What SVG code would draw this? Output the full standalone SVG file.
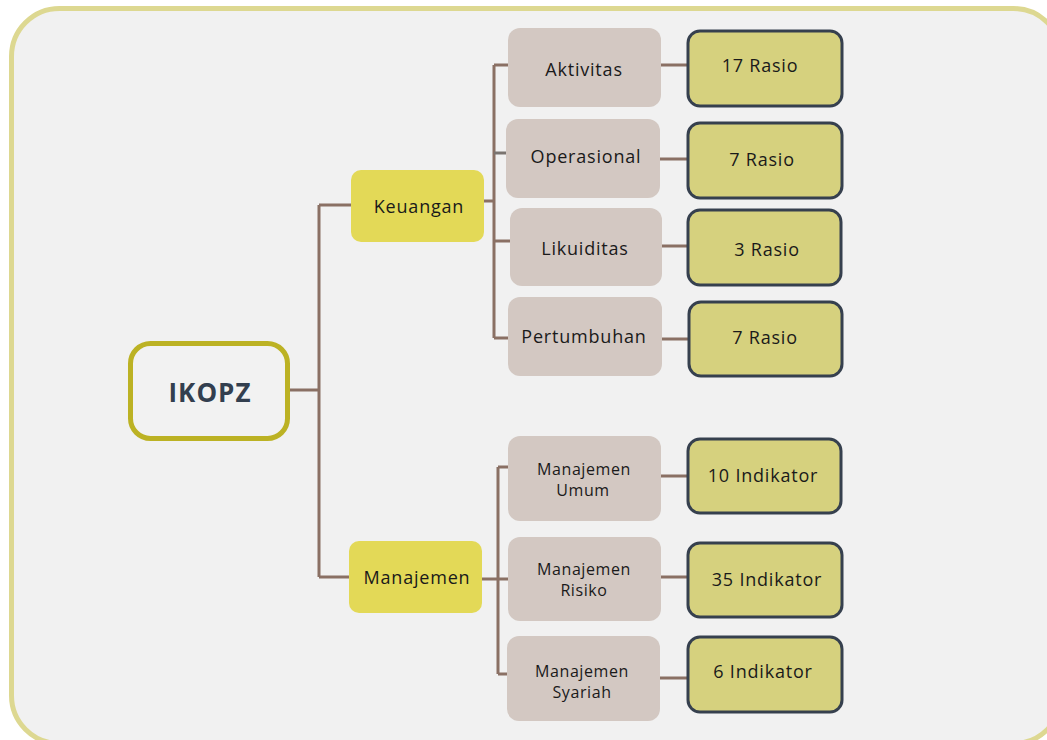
<svg xmlns="http://www.w3.org/2000/svg" width="1047" height="740" viewBox="0 0 1047 740">
<style>
text{font-family:"Open Sans","Liberation Sans",sans-serif;fill:#1a1a1a;text-anchor:middle;dominant-baseline:central}
.frame{fill:#f1f1f1;stroke:#ddd891;stroke-width:5}
.root{fill:#f2f2f2;stroke:#bcb224;stroke-width:5}
.cat{fill:#e3d957}
.sub{fill:#d3c8c2}
.res{fill:#d6d17e;stroke:#36404e;stroke-width:3}
.conn{fill:none;stroke:#8a7064;stroke-width:3}
.t18{font-size:18px;letter-spacing:0.8px}
.t16{font-size:16px;letter-spacing:0.6px}
.root-t{font-size:26px;font-weight:700;fill:#333f4f;letter-spacing:1px}
</style>
<rect class="frame" x="11.5" y="8.5" width="1050" height="735" rx="48"/>
<g id="connectors">
<path class="conn" d="M289,390 H319 M319,205 V577 M319,205 H351 M319,577 H349"/>
<path class="conn" d="M484,201 H494 M494,65 V338 M494,65 H508 M494,241 H510 M494,338 H508"/>
<path class="conn" d="M494,153 H506" style="stroke:#7a7470"/>
<path class="conn" d="M482,579 H508 M498,467 V674 M498,467 H508 M498,674 H507"/>
<path class="conn" d="M661,65 H687 M660,159 H687 M662,246 H687 M662,339 H688 M661,476 H687 M661,577 H687 M660,678 H687"/>
</g>
<g id="ikopz"><rect class="root" x="130.5" y="343.5" width="157" height="95" rx="20"/><text class="root-t" x="210" y="392">IKOPZ</text></g>
<g id="keuangan"><rect class="cat" x="351" y="170" width="133" height="72" rx="10"/><text class="t18" x="419" y="206">Keuangan</text></g>
<g id="manajemen"><rect class="cat" x="349" y="541" width="133" height="72" rx="10"/><text class="t18" x="417" y="577">Manajemen</text></g>
<g id="aktivitas"><rect class="sub" x="508" y="28" width="153" height="79" rx="12"/><text class="t18" x="584" y="69">Aktivitas</text></g>
<g id="operasional"><rect class="sub" x="506" y="119" width="154" height="79" rx="12"/><text class="t18" x="586" y="156">Operasional</text></g>
<g id="likuiditas"><rect class="sub" x="510" y="208" width="152" height="78" rx="12"/><text class="t18" x="585" y="248">Likuiditas</text></g>
<g id="pertumbuhan"><rect class="sub" x="508" y="297" width="154" height="79" rx="12"/><text class="t18" x="584" y="336">Pertumbuhan</text></g>
<g id="umum"><rect class="sub" x="508" y="436" width="153" height="85" rx="12"/><text class="t16" x="584" y="469">Manajemen</text><text class="t16" x="583" y="490">Umum</text></g>
<g id="risiko"><rect class="sub" x="508" y="537" width="153" height="84" rx="12"/><text class="t16" x="584" y="569">Manajemen</text><text class="t16" x="584" y="590">Risiko</text></g>
<g id="syariah"><rect class="sub" x="507" y="636" width="153" height="85" rx="12"/><text class="t16" x="582" y="671">Manajemen</text><text class="t16" x="582" y="692">Syariah</text></g>
<g id="r17"><rect class="res" x="688" y="31" width="154" height="75" rx="12"/><text class="t18" x="760" y="65">17 Rasio</text></g>
<g id="r7a"><rect class="res" x="688" y="123" width="154" height="75" rx="12"/><text class="t18" x="762" y="159">7 Rasio</text></g>
<g id="r3"><rect class="res" x="688" y="210" width="153" height="75" rx="12"/><text class="t18" x="767" y="249">3 Rasio</text></g>
<g id="r7b"><rect class="res" x="689" y="302" width="153" height="74" rx="12"/><text class="t18" x="765" y="337">7 Rasio</text></g>
<g id="i10"><rect class="res" x="688" y="439" width="153" height="74" rx="12"/><text class="t18" x="763" y="475">10 Indikator</text></g>
<g id="i35"><rect class="res" x="688" y="543" width="154" height="74" rx="12"/><text class="t18" x="767" y="579">35 Indikator</text></g>
<g id="i6"><rect class="res" x="688" y="637" width="154" height="75" rx="12"/><text class="t18" x="763" y="671">6 Indikator</text></g>
</svg>
